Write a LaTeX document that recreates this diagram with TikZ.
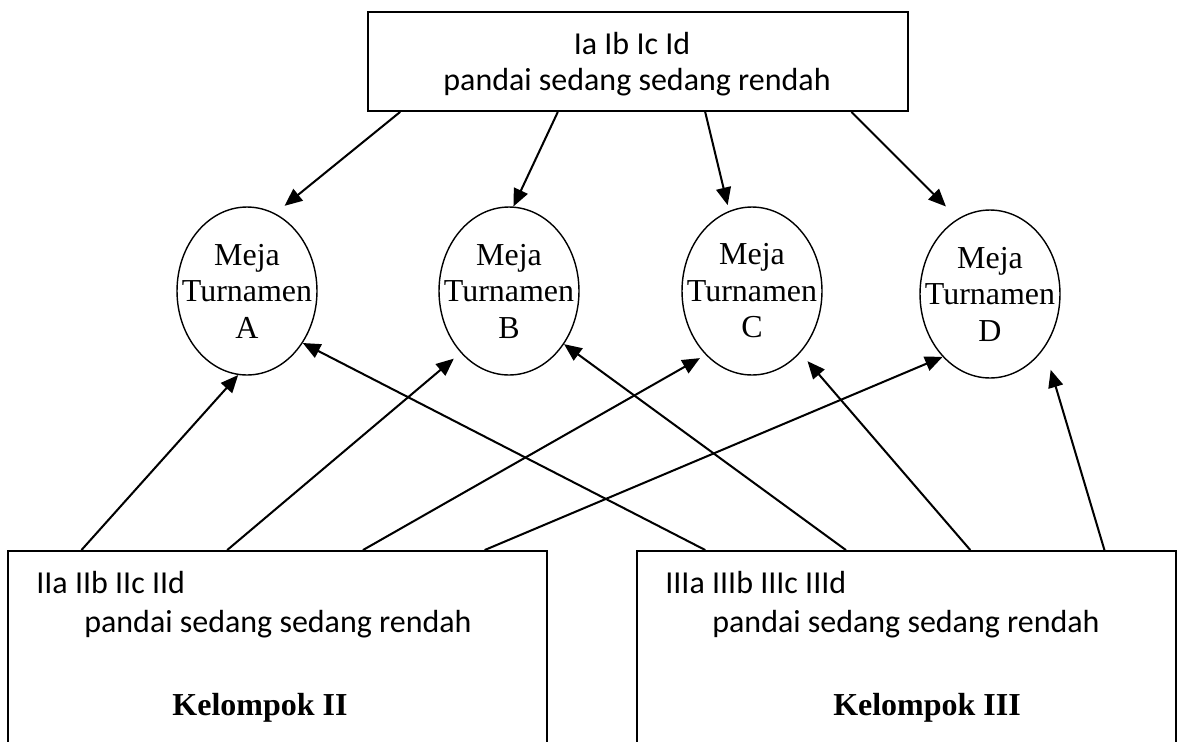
\documentclass[tikz,border=0pt]{standalone}
\usepackage{fontspec}
\setmainfont{Liberation Serif}
\newfontfamily\calibri{Carlito}
\usetikzlibrary{shapes.geometric,arrows.meta,calc}

\begin{document}
\begin{tikzpicture}[x=0.02cm,y=-0.02cm,
  groupbox/.style={draw,line width=1.1pt,rectangle,inner sep=0pt},
  meja/.style={draw,ellipse,line width=0.8pt,minimum width=2.8cm,minimum height=3.36cm,inner sep=0pt},
  mejatext/.style={align=center,inner sep=0pt,font=\fontsize{18.2}{20.8}\selectfont},
  boxtext/.style={inner sep=0pt,font=\calibri\fontsize{18.2}{22}\selectfont},
  grouptitle/.style={inner sep=0pt,font=\bfseries\fontsize{18.2}{22}\selectfont},
  link/.style={line width=1.15pt,-{Triangle[length=10pt,width=8.5pt]}}
]
\useasboundingbox (0,0) rectangle (1180,741);

% group I at the top
\node[groupbox,minimum width=10.8cm,minimum height=1.98cm] (top) at (638,61.5) {};
\node[boxtext,anchor=base] (topids) at (632,54) {Ia Ib Ic Id};
\node[boxtext,anchor=base] (toplevels) at (637,90) {pandai sedang sedang rendah};

% tournament tables
\node[meja,label={[mejatext]center:Meja\\Turnamen\\A}] (A) at (247,291) {};
\node[meja,label={[mejatext]center:Meja\\Turnamen\\B}] (B) at (509,291) {};
\node[meja,label={[mejatext]center:Meja\\Turnamen\\C}] (C) at (752,291) {};
\node[meja,label={[mejatext]center:Meja\\Turnamen\\D}] (D) at (990,294) {};

% groups II and III at the bottom (open below the page edge)
\node[groupbox,minimum width=10.78cm,minimum height=4.02cm] (L) at (277.5,651.5) {};
\node[boxtext,anchor=base west] (lids) at (36,593) {IIa IIb IIc IId};
\node[boxtext,anchor=base west] (llevels) at (84,632) {pandai sedang sedang rendah};
\node[grouptitle,anchor=base] (ltitle) at (260,715) {Kelompok II};

\node[groupbox,minimum width=10.78cm,minimum height=4.02cm] (R) at (906.5,651.5) {};
\node[boxtext,anchor=base west] (rids) at (665,593) {IIIa IIIb IIIc IIId};
\node[boxtext,anchor=base west] (rlevels) at (712,632) {pandai sedang sedang rendah};
\node[grouptitle,anchor=base] (rtitle) at (927,715) {Kelompok III};

% group I to the tables
\draw[link,shorten >=0.24cm] ($(top.south west)!0.061!(top.south east)$) -- (A.70);
\draw[link] ($(top.south west)!0.352!(top.south east)$) -- (B.87);
\draw[link,shorten >=0.12cm] ($(top.south west)!0.624!(top.south east)$) -- (C.106);
\draw[link,shorten >=0.34cm] ($(top.south west)!0.894!(top.south east)$) -- (D.113);

% group II to the tables
\draw[link] ($(L.north west)!0.1375!(L.north east)$) -- (A.-96);
\draw[link,shorten >=0.18cm] ($(L.north west)!0.407!(L.north east)$) -- (B.-128);
\draw[link,shorten >=0.13cm] ($(L.north west)!0.658!(L.north east)$) -- (C.-126);
\draw[link] ($(L.north west)!0.883!(L.north east)$) -- (D.-127);

% group III to the tables
\draw[link] ($(R.north west)!0.128!(R.north east)$) -- (A.-43);
\draw[link] ($(R.north west)!0.388!(R.north east)$) -- (B.-44);
\draw[link,shorten >=0.22cm] ($(R.north west)!0.618!(R.north east)$) -- (C.-52);
\draw[link,shorten >=0.45cm] ($(R.north west)!0.866!(R.north east)$) -- (D.-45);
\end{tikzpicture}
\end{document}
